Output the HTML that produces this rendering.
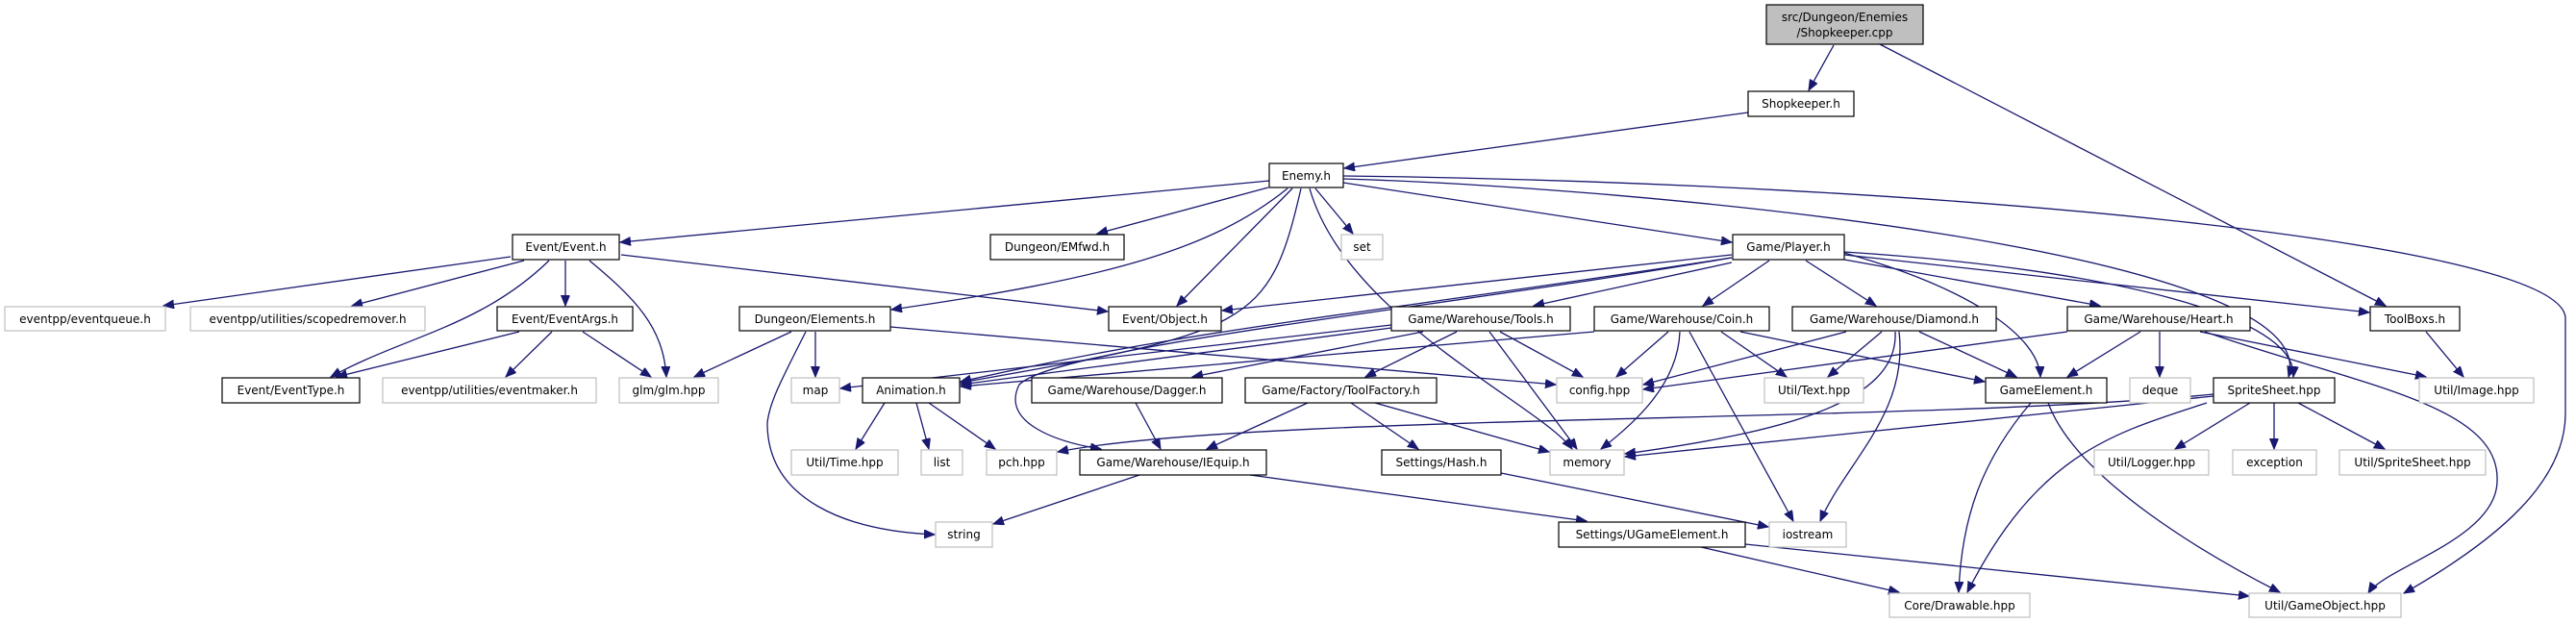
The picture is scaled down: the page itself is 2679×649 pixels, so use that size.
<!DOCTYPE html>
<html><head><meta charset="utf-8"><style>
html,body{margin:0;padding:0;background:#fff;}
svg{display:block;}
text{font-family:"DejaVu Sans","Liberation Sans",sans-serif;font-size:12px;fill:#000;}
.e{fill:none;stroke:#191970;stroke-width:1.3;marker-end:url(#a);}
.b{fill:#fff;stroke:#000;stroke-width:1.2;}
.g{fill:#fff;stroke:#bfbfbf;stroke-width:1.2;}
</style></head><body>
<svg width="2679" height="649" viewBox="0 0 2679 649" xmlns="http://www.w3.org/2000/svg">
<defs><marker id="a" markerUnits="userSpaceOnUse" markerWidth="12" markerHeight="10" refX="11" refY="4.5" orient="auto"><path d="M0,0 L11,4.5 L0,9 z" fill="#191970" stroke="#191970"/></marker></defs>
<g>
<path class="e" d="M1907,47 L1881,94"/>
<path class="e" d="M1955,46 L2481,318"/>
<path class="e" d="M1818,117 L1398,175"/>
<path class="e" d="M1320,188 L645,252"/>
<path class="e" d="M1319,195 L1141,243"/>
<path class="e" d="M1368,196 L1407,243"/>
<path class="e" d="M1397,190 L1801,252"/>
<path class="e" d="M1344,196 L1224,318"/>
<path class="e" d="M1339,196 C1260,260 1150,290 927,322"/>
<path class="e" d="M1353,196 C1320,340 1300,345 999,398"/>
<path class="e" d="M1362,196 C1400,330 1600,420 1635,467"/>
<path class="e" d="M1397,186 C1700,195 2420,260 2380,392"/>
<path class="e" d="M1397,183 C2000,190 2660,250 2668,330 L2668,430 C2668,500 2600,560 2500,617"/>
<path class="e" d="M531,267 L170,318"/>
<path class="e" d="M545,271 L366,318"/>
<path class="e" d="M571,271 C500,340 420,350 344,392"/>
<path class="e" d="M588,271 L588,318"/>
<path class="e" d="M613,271 C660,310 690,340 693,392"/>
<path class="e" d="M646,265 L1152,324"/>
<path class="e" d="M540,345 L350,392"/>
<path class="e" d="M574,345 L526,392"/>
<path class="e" d="M606,345 L677,392"/>
<path class="e" d="M823,345 L722,392"/>
<path class="e" d="M848,345 L848,392"/>
<path class="e" d="M838,345 C810,400 800,420 798,440 C798,520 880,552 972,556"/>
<path class="e" d="M926,340 L1618,400"/>
<path class="e" d="M1801,265 L1271,323"/>
<path class="e" d="M1801,268 C1400,330 1250,340 999,397"/>
<path class="e" d="M1801,273 L1595,318"/>
<path class="e" d="M1840,271 L1771,318"/>
<path class="e" d="M1878,271 L1951,318"/>
<path class="e" d="M1918,270 L2184,318"/>
<path class="e" d="M1918,265 L2464,325"/>
<path class="e" d="M1918,262 C2200,280 2390,330 2385,392"/>
<path class="e" d="M1918,263 C2050,300 2120,350 2122,392"/>
<path class="e" d="M1801,268 C1500,320 1100,360 1060,400 C1040,440 1100,460 1145,467"/>
<path class="e" d="M1447,338 L874,404"/>
<path class="e" d="M1447,341 L999,400"/>
<path class="e" d="M1480,345 L1240,392"/>
<path class="e" d="M1515,345 L1420,392"/>
<path class="e" d="M1560,345 L1646,392"/>
<path class="e" d="M1549,345 L1640,467"/>
<path class="e" d="M1658,345 L999,402"/>
<path class="e" d="M1735,345 L1681,392"/>
<path class="e" d="M1747,345 C1745,400 1700,440 1665,467"/>
<path class="e" d="M1757,345 L1865,542"/>
<path class="e" d="M1790,345 L1858,392"/>
<path class="e" d="M1810,345 L2064,397"/>
<path class="e" d="M1920,345 L1709,400"/>
<path class="e" d="M1957,345 L1901,392"/>
<path class="e" d="M1996,345 L2097,392"/>
<path class="e" d="M1971,345 C1975,420 1850,450 1690,472"/>
<path class="e" d="M1975,345 C1985,430 1920,480 1893,542"/>
<path class="e" d="M2150,345 L1709,405"/>
<path class="e" d="M2226,345 L2150,392"/>
<path class="e" d="M2246,345 L2246,392"/>
<path class="e" d="M2288,345 L2523,392"/>
<path class="e" d="M2293,345 C2450,400 2600,420 2597,500 C2597,560 2480,590 2463,617"/>
<path class="e" d="M2523,345 L2562,392"/>
<path class="e" d="M920,419 L890,467"/>
<path class="e" d="M953,419 L966,467"/>
<path class="e" d="M966,419 L1035,467"/>
<path class="e" d="M1181,419 L1207,467"/>
<path class="e" d="M1360,419 L1255,467"/>
<path class="e" d="M1405,419 L1475,467"/>
<path class="e" d="M1430,419 L1611,470"/>
<path class="e" d="M1185,494 L1033,545"/>
<path class="e" d="M1300,494 L1650,542"/>
<path class="e" d="M1561,492 L1839,548"/>
<path class="e" d="M2302,410 C2000,440 1300,430 1100,470"/>
<path class="e" d="M2302,412 L1690,475"/>
<path class="e" d="M2340,419 L2262,467"/>
<path class="e" d="M2365,419 L2365,467"/>
<path class="e" d="M2390,419 L2480,467"/>
<path class="e" d="M2295,419 C2200,450 2120,470 2046,616"/>
<path class="e" d="M2112,419 C2060,480 2040,540 2037,616"/>
<path class="e" d="M2130,419 C2160,500 2300,580 2371,616"/>
<path class="e" d="M1769,569 L1975,616"/>
<path class="e" d="M1815,566 L2339,620"/>
</g>
<g>
<rect x="1837" y="5" width="163" height="41" fill="#bfbfbf" stroke="#000" stroke-width="1.2"/>
<text x="1918.5" y="22" text-anchor="middle">src/Dungeon/Enemies</text>
<text x="1918.5" y="38" text-anchor="middle">/Shopkeeper.cpp</text>
<rect class="b" x="1818" y="95" width="110" height="26"/><text x="1873" y="112" text-anchor="middle">Shopkeeper.h</text>
<rect class="b" x="1320" y="170" width="77" height="25"/><text x="1358.5" y="187" text-anchor="middle">Enemy.h</text>
<rect class="b" x="533" y="244" width="111" height="26"/><text x="588.5" y="261" text-anchor="middle">Event/Event.h</text>
<rect class="b" x="1030" y="244" width="139" height="26"/><text x="1099.5" y="261" text-anchor="middle">Dungeon/EMfwd.h</text>
<rect class="g" x="1395" y="244" width="43" height="26"/><text x="1416.5" y="261" text-anchor="middle">set</text>
<rect class="b" x="1802" y="244" width="116" height="26"/><text x="1860" y="261" text-anchor="middle">Game/Player.h</text>
<rect class="g" x="5" y="319" width="167" height="25"/><text x="88.5" y="336" text-anchor="middle">eventpp/eventqueue.h</text>
<rect class="g" x="198" y="319" width="244" height="25"/><text x="320" y="336" text-anchor="middle">eventpp/utilities/scopedremover.h</text>
<rect class="b" x="517" y="319" width="141" height="25"/><text x="587.5" y="336" text-anchor="middle">Event/EventArgs.h</text>
<rect class="b" x="769" y="319" width="157" height="25"/><text x="847.5" y="336" text-anchor="middle">Dungeon/Elements.h</text>
<rect class="b" x="1153" y="319" width="117" height="25"/><text x="1211.5" y="336" text-anchor="middle">Event/Object.h</text>
<rect class="b" x="1447" y="319" width="186" height="25"/><text x="1540" y="336" text-anchor="middle">Game/Warehouse/Tools.h</text>
<rect class="b" x="1658" y="319" width="182" height="25"/><text x="1749" y="336" text-anchor="middle">Game/Warehouse/Coin.h</text>
<rect class="b" x="1864" y="319" width="212" height="25"/><text x="1970" y="336" text-anchor="middle">Game/Warehouse/Diamond.h</text>
<rect class="b" x="2150" y="319" width="190" height="25"/><text x="2245" y="336" text-anchor="middle">Game/Warehouse/Heart.h</text>
<rect class="b" x="2465" y="319" width="93" height="25"/><text x="2511.5" y="336" text-anchor="middle">ToolBoxs.h</text>
<rect class="b" x="231" y="393" width="143" height="26"/><text x="302.5" y="410" text-anchor="middle">Event/EventType.h</text>
<rect class="g" x="398" y="393" width="222" height="26"/><text x="509" y="410" text-anchor="middle">eventpp/utilities/eventmaker.h</text>
<rect class="g" x="644" y="393" width="103" height="26"/><text x="695.5" y="410" text-anchor="middle">glm/glm.hpp</text>
<rect class="g" x="823" y="393" width="50" height="26"/><text x="848" y="410" text-anchor="middle">map</text>
<rect class="b" x="897" y="393" width="101" height="26"/><text x="947.5" y="410" text-anchor="middle">Animation.h</text>
<rect class="b" x="1073" y="393" width="198" height="26"/><text x="1172" y="410" text-anchor="middle">Game/Warehouse/Dagger.h</text>
<rect class="b" x="1295" y="393" width="199" height="26"/><text x="1394.5" y="410" text-anchor="middle">Game/Factory/ToolFactory.h</text>
<rect class="g" x="1619" y="393" width="89" height="26"/><text x="1663.5" y="410" text-anchor="middle">config.hpp</text>
<rect class="g" x="1835" y="393" width="103" height="26"/><text x="1886.5" y="410" text-anchor="middle">Util/Text.hpp</text>
<rect class="b" x="2065" y="393" width="126" height="26"/><text x="2128" y="410" text-anchor="middle">GameElement.h</text>
<rect class="g" x="2215" y="393" width="63" height="26"/><text x="2246.5" y="410" text-anchor="middle">deque</text>
<rect class="b" x="2302" y="393" width="126" height="26"/><text x="2365" y="410" text-anchor="middle">SpriteSheet.hpp</text>
<rect class="g" x="2516" y="393" width="119" height="26"/><text x="2575.5" y="410" text-anchor="middle">Util/Image.hpp</text>
<rect class="g" x="823" y="468" width="111" height="26"/><text x="878.5" y="485" text-anchor="middle">Util/Time.hpp</text>
<rect class="g" x="958" y="468" width="43" height="26"/><text x="979.5" y="485" text-anchor="middle">list</text>
<rect class="g" x="1026" y="468" width="73" height="26"/><text x="1062.5" y="485" text-anchor="middle">pch.hpp</text>
<rect class="b" x="1123" y="468" width="194" height="26"/><text x="1220" y="485" text-anchor="middle">Game/Warehouse/IEquip.h</text>
<rect class="b" x="1437" y="468" width="124" height="26"/><text x="1499" y="485" text-anchor="middle">Settings/Hash.h</text>
<rect class="g" x="1612" y="468" width="77" height="26"/><text x="1650.5" y="485" text-anchor="middle">memory</text>
<rect class="g" x="2178" y="468" width="119" height="26"/><text x="2237.5" y="485" text-anchor="middle">Util/Logger.hpp</text>
<rect class="g" x="2322" y="468" width="87" height="26"/><text x="2365.5" y="485" text-anchor="middle">exception</text>
<rect class="g" x="2433" y="468" width="152" height="26"/><text x="2509" y="485" text-anchor="middle">Util/SpriteSheet.hpp</text>
<rect class="g" x="973" y="543" width="59" height="26"/><text x="1002.5" y="560" text-anchor="middle">string</text>
<rect class="b" x="1621" y="543" width="194" height="26"/><text x="1718" y="560" text-anchor="middle">Settings/UGameElement.h</text>
<rect class="g" x="1840" y="543" width="80" height="26"/><text x="1880" y="560" text-anchor="middle">iostream</text>
<rect class="g" x="1965" y="617" width="146" height="25"/><text x="2038" y="634" text-anchor="middle">Core/Drawable.hpp</text>
<rect class="g" x="2339" y="617" width="158" height="25"/><text x="2418" y="634" text-anchor="middle">Util/GameObject.hpp</text>
</g>
</svg>
</body></html>
